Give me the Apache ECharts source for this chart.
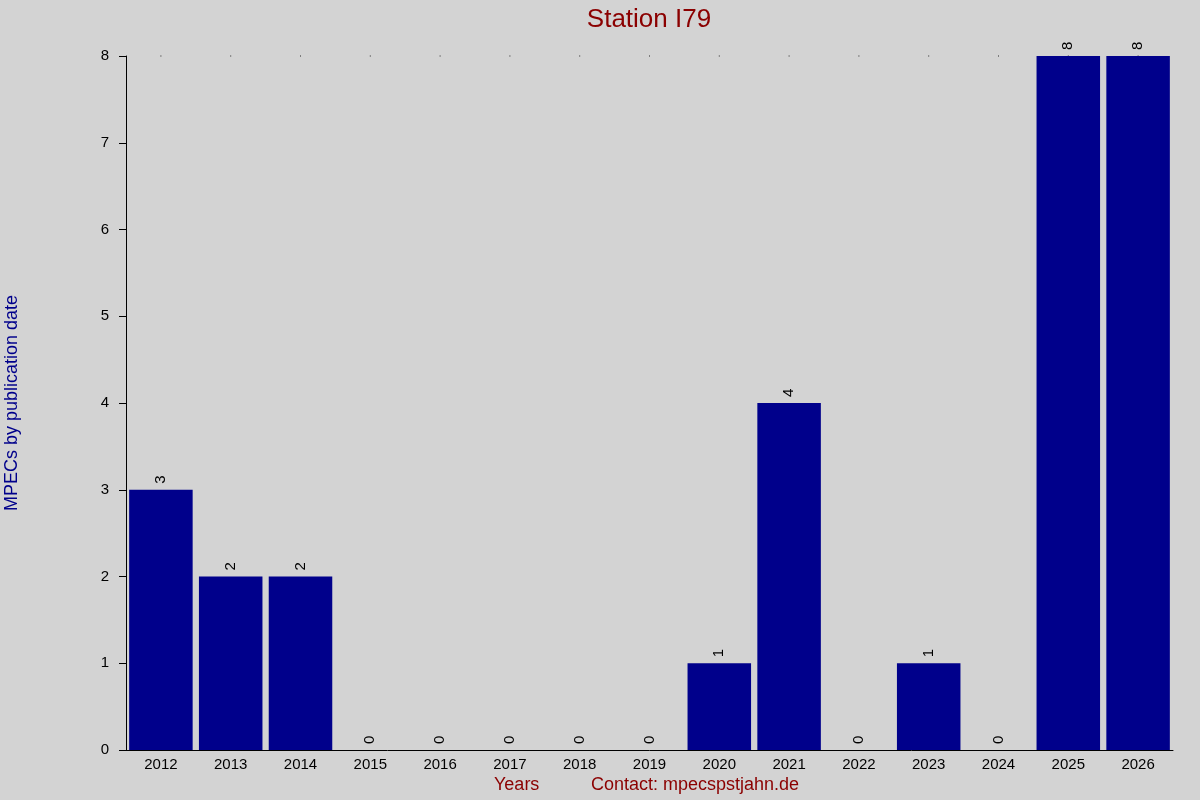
<!DOCTYPE html>
<html>
<head>
<meta charset="utf-8">
<script src="https://cdn.jsdelivr.net/npm/echarts@6/dist/echarts.min.js"></script>
<style>
html,body{margin:0;padding:0;background:#d3d3d3;}
#chart{width:1200px;height:800px;}
</style>
</head>
<body>
<div id="chart"></div>
<script>
var years = ['2012','2013','2014','2015','2016','2017','2018','2019','2020','2021','2022','2023','2024','2025','2026'];
var counts = [3,2,2,0,0,0,0,0,1,4,0,1,0,8,8];
var yTicks = [0,1,2,3,4,5,6,7,8];
var topDots = years.map(function(){ return 8; });

var chart = echarts.init(document.getElementById('chart'));
var font = 'Liberation Sans, Arial, sans-serif';
chart.setOption({
  backgroundColor: '#d3d3d3',
  animation: false,
  grid: {left: 126, right: 27, top: 56, bottom: 50, containLabel: false},
  xAxis: {
    type: 'category',
    data: years,
    axisLine: {show: true, lineStyle: {color: '#000', width: 1}},
    axisTick: {show: false},
    axisLabel: {color: '#000', fontSize: 15, fontFamily: font, margin: 7, interval: 0},
    splitLine: {show: false}
  },
  yAxis: {
    type: 'value',
    min: yTicks[0],
    max: yTicks[yTicks.length - 1],
    interval: 1,
    axisLine: {show: true, lineStyle: {color: '#000', width: 1}},
    axisTick: {show: true, length: 7, lineStyle: {color: '#000'}},
    axisLabel: {color: '#000', fontSize: 15, fontFamily: font, margin: 17},
    splitLine: {show: false}
  },
  graphic: [
    {type: 'text', x: 649, y: 7, style: {text: 'Station I79', fill: '#8b0000', font: '26px ' + font, textAlign: 'center'}},
    {type: 'text', left: 494, top: 776, style: {text: 'Years', fill: '#8b0000', font: '18px ' + font}},
    {type: 'text', left: 591, top: 776, style: {text: 'Contact: mpecspstjahn.de', fill: '#8b0000', font: '18px ' + font}},
    {type: 'text', x: 3, y: 403, rotation: Math.PI / 2,
     style: {text: 'MPECs by publication date', fill: '#00008b', font: '18px ' + font, textAlign: 'center', textVerticalAlign: 'top'}}
  ],
  series: [
    {
      type: 'bar',
      data: counts,
      barCategoryGap: '9%',
      itemStyle: {color: '#00008b'},
      label: {
        show: true,
        position: 'top',
        rotate: 90,
        distance: 6,
        align: 'left',
        verticalAlign: 'middle',
        color: '#000',
        fontSize: 15,
        fontFamily: font
      }
    },
    {
      type: 'scatter',
      data: topDots,
      symbol: 'rect',
      symbolSize: 1,
      itemStyle: {color: '#000'},
      silent: true,
      z: 1
    }
  ]
});
</script>
</body>
</html>
